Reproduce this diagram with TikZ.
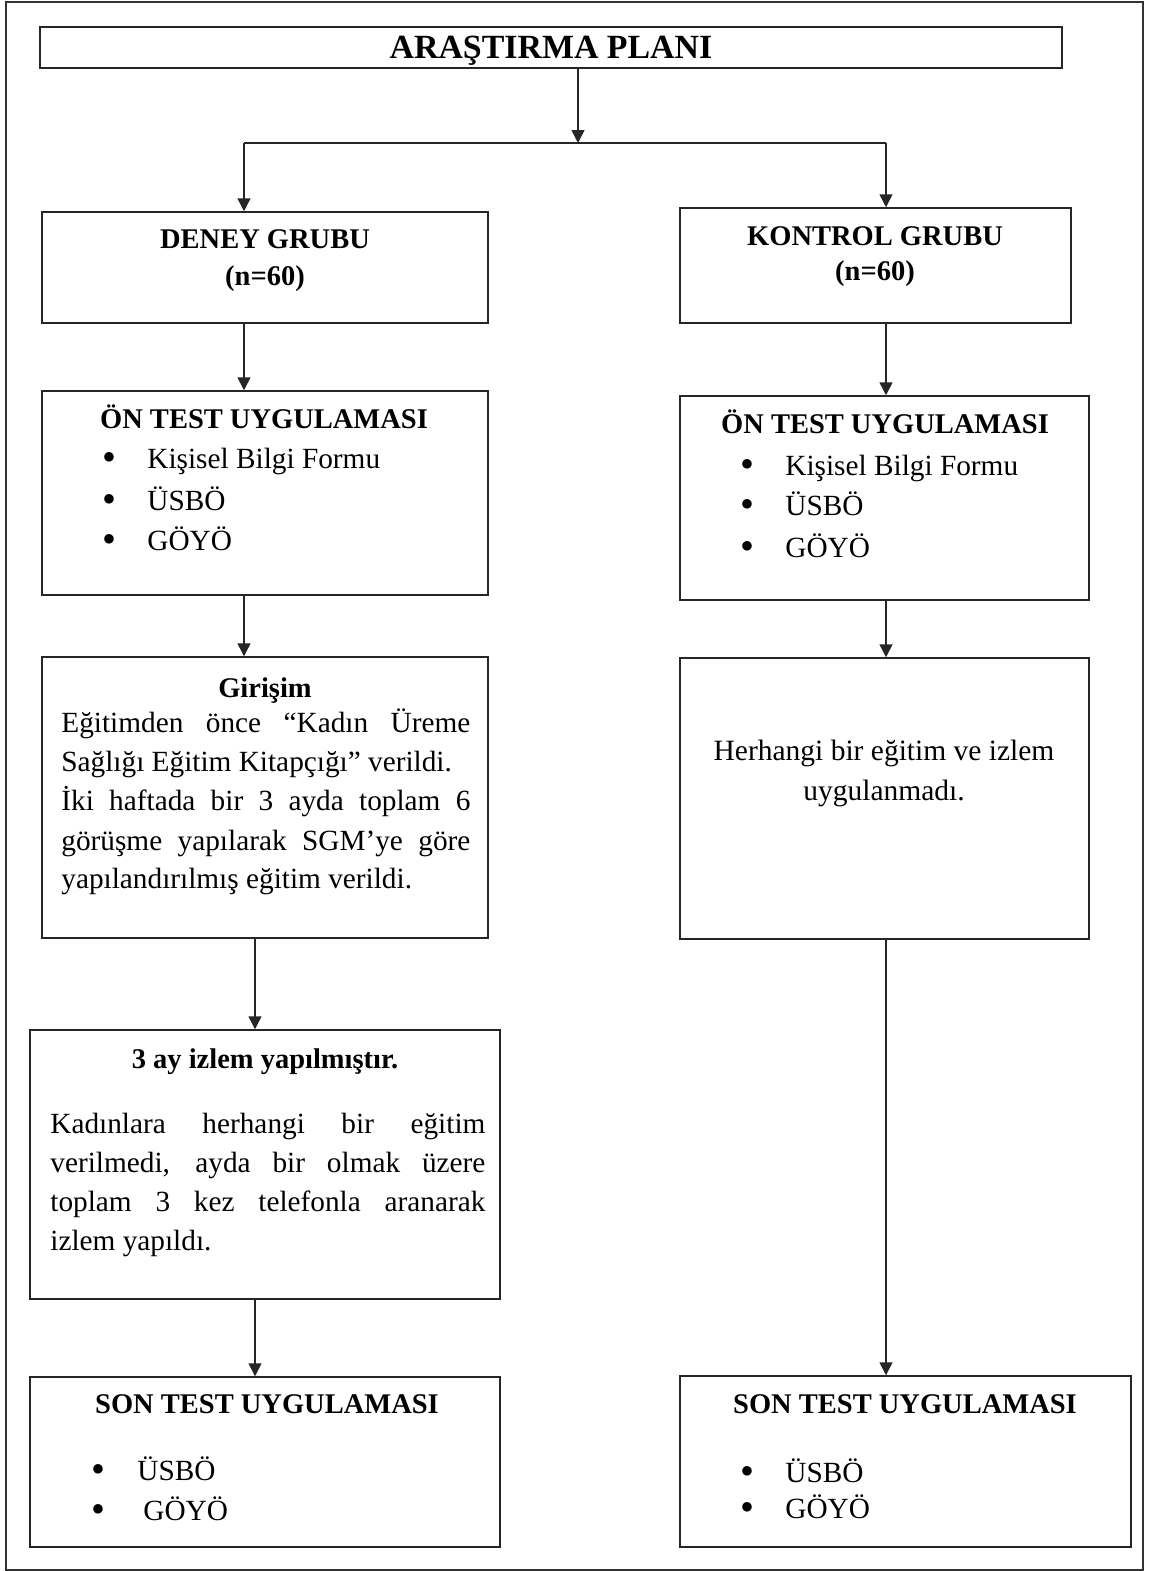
\documentclass[tikz,border=0pt]{standalone}
\usepackage{fontspec}
\setmainfont{Liberation Serif}
\usetikzlibrary{fit,arrows.meta}
\begin{document}
\begin{tikzpicture}[x=0.5bp,y=-0.5bp,
  box/.style={draw=black!85, line width=0.75bp, inner sep=0pt, rectangle},
  frame/.style={draw=black!80, line width=0.8bp},
  conn/.style={draw=black!85, line width=0.75bp},
  arr/.style={conn, -{Triangle[length=6.5bp,width=6.5bp]}},
  ttl/.style={inner sep=0pt, anchor=base, font=\fontsize{17}{20}\selectfont\bfseries},
  hd/.style={inner sep=0pt, anchor=base, font=\fontsize{14.3}{18}\selectfont\bfseries},
  txt/.style={inner sep=0pt, anchor=base west, font=\fontsize{14.7}{18}\selectfont},
  bul/.style={inner sep=0pt, anchor=base west, font=\fontsize{20}{18}\selectfont},
  ctxt/.style={inner sep=0pt, anchor=base, font=\fontsize{14.8}{18}\selectfont}
]
\useasboundingbox (0,0) rectangle (1150,1571);
\draw[frame] (6,2) rectangle (1143,1570);

% boxes
\node[box, fit={(40,27)(1062,68)}] (title) {};
\node[box, fit={(42,212)(488,323)}] (deney) {};
\node[box, fit={(680,208)(1071,323)}] (kontrol) {};
\node[box, fit={(42,391)(488,595)}] (onL) {};
\node[box, fit={(680,396)(1089,600)}] (onR) {};
\node[box, fit={(42,657)(488,938)}] (girisim) {};
\node[box, fit={(680,658)(1089,939)}] (herhangi) {};
\node[box, fit={(30,1030)(500,1299)}] (ucay) {};
\node[box, fit={(30,1377)(500,1547)}] (sonL) {};
\node[box, fit={(680,1376)(1131,1547)}] (sonR) {};

% texts
\node[ttl] (titlet) at (551,58) {ARAŞTIRMA PLANI};

\node[hd] (deneyt1) at (265,248) {DENEY GRUBU};
\node[hd] (deneyt2) at (265,285) {(n=60)};

\node[hd] (kontrolt1) at (875,245) {KONTROL GRUBU};
\node[hd] (kontrolt2) at (875,280) {(n=60)};

\node[hd] (onLt) at (264,428) {ÖN TEST UYGULAMASI};
\node[bul] (onLb1) at (102,470) {•};
\node[txt] (onLi1) at (147,468) {Kişisel Bilgi Formu};
\node[bul] (onLb2) at (102,512) {•};
\node[txt] (onLi2) at (147,510) {ÜSBÖ};
\node[bul] (onLb3) at (102,552) {•};
\node[txt] (onLi3) at (147,550) {GÖYÖ};

\node[hd] (onRt) at (885,433) {ÖN TEST UYGULAMASI};
\node[bul] (onRb1) at (740,477) {•};
\node[txt] (onRi1) at (785,475) {Kişisel Bilgi Formu};
\node[bul] (onRb2) at (740,517) {•};
\node[txt] (onRi2) at (785,515) {ÜSBÖ};
\node[bul] (onRb3) at (740,559) {•};
\node[txt] (onRi3) at (785,557) {GÖYÖ};

\node[hd] (girt) at (265,697) {Girişim};
\node[txt] (gir1) at (61,732) {\makebox[204.5bp][s]{Eğitimden önce “Kadın Üreme}};
\node[txt] (gir2) at (61,771) {Sağlığı Eğitim Kitapçığı” verildi.};
\node[txt] (gir3) at (61,810) {\makebox[204.5bp][s]{İki haftada bir 3 ayda toplam 6}};
\node[txt] (gir4) at (61,850) {\makebox[204.5bp][s]{görüşme yapılarak SGM’ye göre}};
\node[txt] (gir5) at (61,888) {yapılandırılmış eğitim verildi.};

\node[ctxt] (her1) at (884,760) {Herhangi bir eğitim ve izlem};
\node[ctxt] (her2) at (884,800) {uygulanmadı.};

\node[hd] (ucayt) at (265,1068) {3 ay izlem yapılmıştır.};
\node[txt] (uc1) at (50,1133) {\makebox[217.5bp][s]{Kadınlara herhangi bir eğitim}};
\node[txt] (uc2) at (50,1172) {\makebox[217.5bp][s]{verilmedi, ayda bir olmak üzere}};
\node[txt] (uc3) at (50,1211) {\makebox[217.5bp][s]{toplam 3 kez telefonla aranarak}};
\node[txt] (uc4) at (50,1250) {izlem yapıldı.};

\node[hd] (sonLt) at (267,1413) {SON TEST UYGULAMASI};
\node[bul] (sonLb1) at (91,1482) {•};
\node[txt] (sonLi1) at (137,1480) {ÜSBÖ};
\node[bul] (sonLb2) at (91,1522) {•};
\node[txt] (sonLi2) at (143,1520) {GÖYÖ};

\node[hd] (sonRt) at (905,1413) {SON TEST UYGULAMASI};
\node[bul] (sonRb1) at (740,1484) {•};
\node[txt] (sonRi1) at (785,1482) {ÜSBÖ};
\node[bul] (sonRb2) at (740,1520) {•};
\node[txt] (sonRi2) at (785,1518) {GÖYÖ};

% connectors
\coordinate (j) at (578,143);
\coordinate (jl) at (244,143);
\coordinate (jr) at (886,143);
\coordinate (cl) at (255,0);
\draw[arr] (title.south -| j) -- (j);
\draw[conn] (jl) -- (jr);
\draw[arr] (jl) -- (jl |- deney.north);
\draw[arr] (jr) -- (jr |- kontrol.north);
\draw[arr] (deney.south -| jl) -- (jl |- onL.north);
\draw[arr] (onL.south -| jl) -- (jl |- girisim.north);
\draw[arr] (girisim.south -| cl) -- (cl |- ucay.north);
\draw[arr] (ucay.south -| cl) -- (cl |- sonL.north);
\draw[arr] (kontrol.south -| jr) -- (jr |- onR.north);
\draw[arr] (onR.south -| jr) -- (jr |- herhangi.north);
\draw[arr] (herhangi.south -| jr) -- (jr |- sonR.north);
\end{tikzpicture}
\end{document}
